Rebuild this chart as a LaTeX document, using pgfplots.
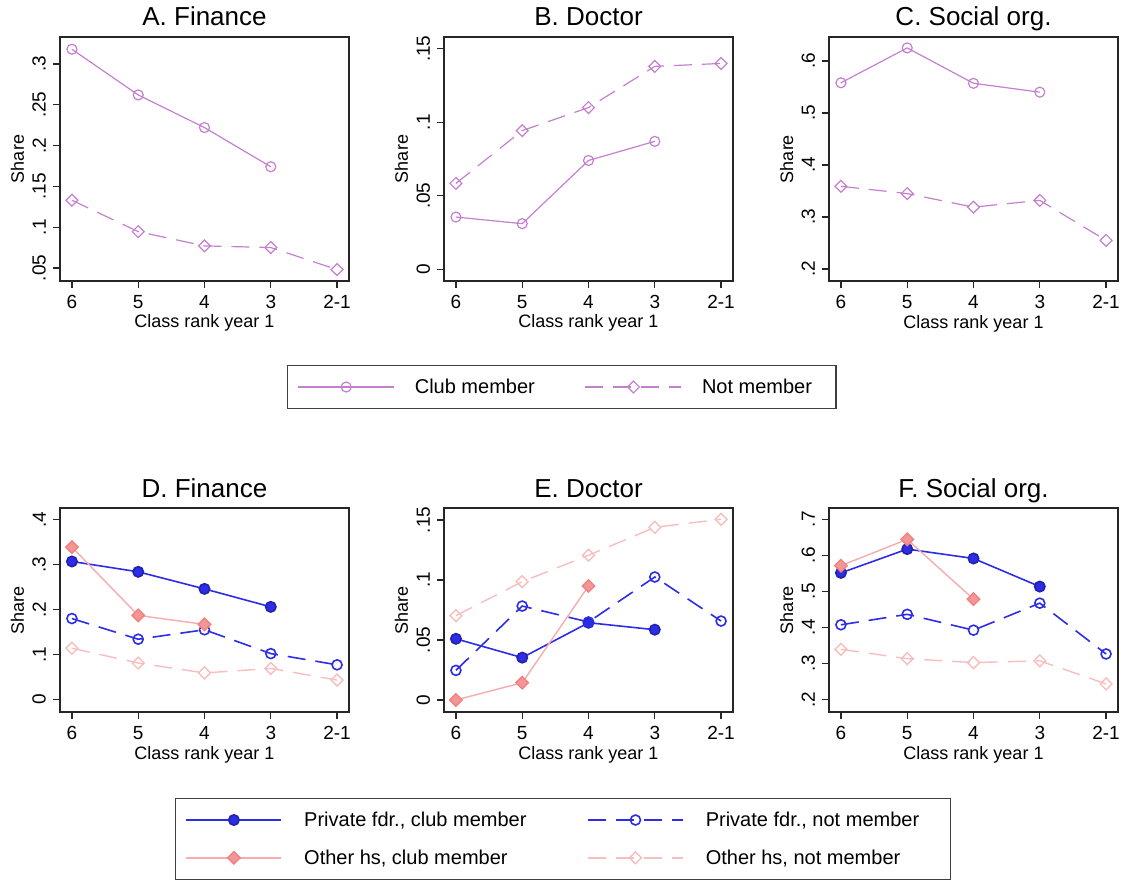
\documentclass[border=0pt]{standalone}
\usepackage{fontspec}
\setmainfont{Liberation Sans}
\usepackage{pgfplots}
\pgfplotsset{compat=1.18}

\definecolor{plum}{RGB}{196,128,206}
\definecolor{pblue}{RGB}{45,45,230}
\definecolor{pinkA}{RGB}{242,150,150}
\definecolor{pinkL}{RGB}{246,172,172}
\definecolor{pinkB}{RGB}{247,190,190}

\newcommand{\legtxt}[2]{\makebox[#1][l]{\strut #2}}

\pgfplotsset{
  panel/.style={
    scale only axis, width=144.5pt,
    xmin=-0.18, xmax=4.18,
    xtick={0,...,4}, xticklabels={6,5,4,3,2-1},
    tick align=outside, tick pos=left,
    major tick length=3.5pt,
    axis line style={black!85, line width=0.7pt},
    tick style={black!85, line width=0.6pt},
    ticklabel style={font=\fontsize{9.5}{11}\selectfont},
    yticklabel style={rotate=90, anchor=south},
    xlabel={Class rank year 1}, ylabel={Share},
    label style={font=\fontsize{9}{11}\selectfont},
    xlabel style={at={(axis description cs:0.5,0)}, anchor=base, yshift=-23.5pt},
    ylabel style={at={(axis description cs:-0.1246,0.5)}, anchor=base},
    title style={at={(axis description cs:0.5,1)}, anchor=base, yshift=-0.5pt,
                 font=\fontsize{13}{15}\selectfont},
    clip=false,
    /pgf/number format/assume math mode=true,
  },
  top/.style={panel, height=122pt},
  bot/.style={panel, height=102pt},
  dsh/.style={dash pattern=on 9pt off 5pt},
  club/.style={plum, line width=0.6pt, mark=o, mark size=2.5pt, mark options={solid}},
  notm/.style={plum, line width=0.6pt, dsh, mark=square, mark size=2.1pt,
               mark options={solid, rotate=45}},
  pclub/.style={pblue, line width=0.8pt, mark=*, mark size=2.6pt,
                mark options={solid, fill=pblue, draw=pblue!75!black}},
  pnot/.style={pblue, line width=0.8pt, dsh, mark=o, mark size=2.5pt, mark options={solid}},
  oclub/.style={pinkL, line width=0.7pt, mark=square*, mark size=2.2pt,
                mark options={solid, rotate=45, fill=pinkA, draw=pinkA!85!red}},
  onot/.style={pinkB, line width=0.7pt, dsh, mark=square, mark size=2.1pt,
               mark options={solid, rotate=45}},
  legimg/.style={legend image code/.code={
      \draw[mark repeat=2,mark phase=2,##1] plot coordinates {(0pt,0pt) (#1,0pt) (2*#1,0pt)};}},
}

\begin{document}
\begin{tikzpicture}
\path[use as bounding box] (0,0) rectangle (561.5pt,-441pt);

% ---- top row
\begin{axis}[top, at={(30pt,-18.5pt)}, anchor=north west,
  title={A. Finance}, ymin=0.034, ymax=0.333,
  ytick={0.05,0.1,0.15,0.2,0.25,0.3}, yticklabels={.05,.1,.15,.2,.25,.3},
  legimg=24pt, legend columns=2,
  legend style={at={(axis description cs:0.7855,-0.3443)}, anchor=north west,
    draw=black!75, line width=0.6pt, inner xsep=5pt, inner ysep=5.75pt,
    font=\fontsize{10}{12}\selectfont, nodes={inner sep=0pt},
    /tikz/every odd column/.append style={column sep=10pt},
    /tikz/every even column/.append style={column sep=23pt}},
  legend cell align=left]
\addplot[club] coordinates {(0,0.318) (1,0.262) (2,0.222) (3,0.174)};
\addplot[notm] coordinates {(0,0.133) (1,0.0945) (2,0.077) (3,0.075) (4,0.048)};
\legend{\legtxt{62pt}{Club member}, \legtxt{62pt}{Not member}}
\end{axis}

\begin{axis}[top, at={(222pt,-18.5pt)}, anchor=north west,
  title={B. Doctor}, ymin=-0.008, ymax=0.158,
  ytick={0,0.05,0.1,0.15}, yticklabels={0,.05,.1,.15}]
\addplot[club] coordinates {(0,0.0355) (1,0.031) (2,0.074) (3,0.087)};
\addplot[notm] coordinates {(0,0.0584) (1,0.0943) (2,0.110) (3,0.138) (4,0.140)};
\end{axis}

\begin{axis}[top, at={(414.5pt,-18.5pt)}, anchor=north west,
  title={C. Social org.}, ymin=0.177, ymax=0.646,
  ytick={0.2,0.3,0.4,0.5,0.6}, yticklabels={.2,.3,.4,.5,.6}]
\addplot[club] coordinates {(0,0.558) (1,0.625) (2,0.557) (3,0.540)};
\addplot[notm] coordinates {(0,0.359) (1,0.345) (2,0.319) (3,0.332) (4,0.255)};
\end{axis}

% ---- bottom row
\begin{axis}[bot, at={(30pt,-254pt)}, anchor=north west,
  title={D. Finance}, ymin=-0.028, ymax=0.426,
  ytick={0,0.1,0.2,0.3,0.4}, yticklabels={0,.1,.2,.3,.4},
  legimg=23.75pt, legend columns=2,
  legend style={at={(axis description cs:0.3979,-0.4216)}, anchor=north west,
    draw=black!75, line width=0.6pt, inner xsep=5pt, inner ysep=5.75pt, row sep=9pt,
    font=\fontsize{10}{12}\selectfont, nodes={inner sep=0pt},
    /tikz/every odd column/.append style={column sep=11pt},
    /tikz/every even column/.append style={column sep=24pt}},
  legend cell align=left]
\addplot[pclub] coordinates {(0,0.307) (1,0.284) (2,0.246) (3,0.206)};
\addplot[pnot] coordinates {(0,0.180) (1,0.134) (2,0.155) (3,0.102) (4,0.077)};
\addplot[oclub] coordinates {(0,0.339) (1,0.187) (2,0.167)};
\addplot[onot] coordinates {(0,0.114) (1,0.081) (2,0.059) (3,0.069) (4,0.043)};
\legend{\legtxt{117.5pt}{Private fdr., club member}, \legtxt{117.5pt}{Private fdr., not member},
        \legtxt{117.5pt}{Other hs, club member}, \legtxt{117.5pt}{Other hs, not member}}
\end{axis}

\begin{axis}[bot, at={(222pt,-254pt)}, anchor=north west,
  title={E. Doctor}, ymin=-0.010, ymax=0.160,
  ytick={0,0.05,0.1,0.15}, yticklabels={0,.05,.1,.15}]
\addplot[pclub] coordinates {(0,0.051) (1,0.0353) (2,0.0644) (3,0.0586)};
\addplot[pnot] coordinates {(0,0.0247) (1,0.0783) (2,0.065) (3,0.1025) (4,0.0658)};
\addplot[oclub] coordinates {(0,0) (1,0.0144) (2,0.095)};
\addplot[onot] coordinates {(0,0.0703) (1,0.0986) (2,0.1206) (3,0.1439) (4,0.1506)};
\end{axis}

\begin{axis}[bot, at={(414.5pt,-254pt)}, anchor=north west,
  title={F. Social org.}, ymin=0.165, ymax=0.731,
  ytick={0.2,0.3,0.4,0.5,0.6,0.7}, yticklabels={.2,.3,.4,.5,.6,.7}]
\addplot[pclub] coordinates {(0,0.551) (1,0.617) (2,0.591) (3,0.513)};
\addplot[pnot] coordinates {(0,0.407) (1,0.436) (2,0.392) (3,0.467) (4,0.326)};
\addplot[oclub] coordinates {(0,0.571) (1,0.644) (2,0.478)};
\addplot[onot] coordinates {(0,0.339) (1,0.313) (2,0.302) (3,0.307) (4,0.243)};
\end{axis}
\end{tikzpicture}
\end{document}
